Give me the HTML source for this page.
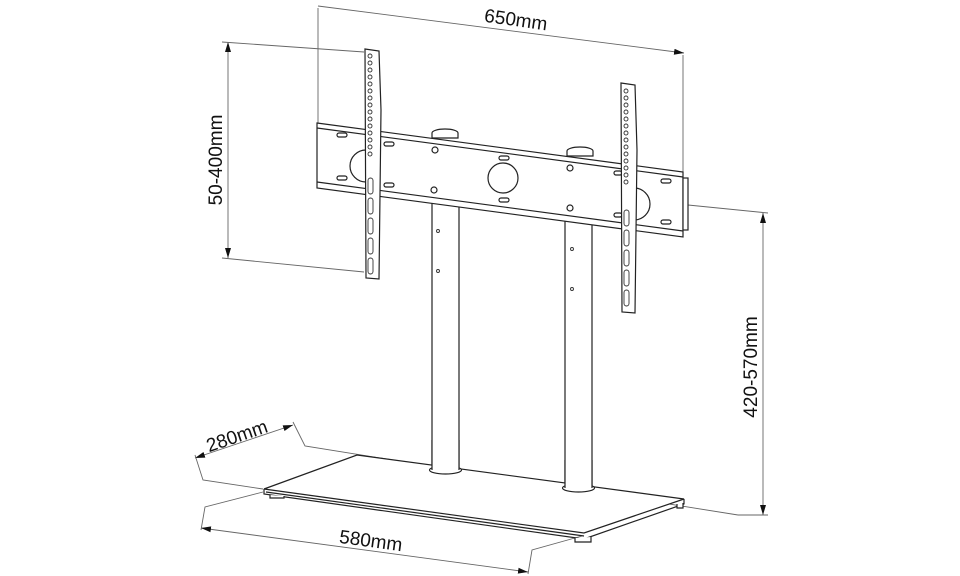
<!DOCTYPE html>
<html><head><meta charset="utf-8"><style>
html,body{margin:0;padding:0;background:#fff;width:960px;height:576px;overflow:hidden}
svg{display:block}
text{font-family:"Liberation Sans",sans-serif;fill:#111;font-size:19px}
</style></head><body>
<svg width="960" height="576" viewBox="0 0 960 576" xmlns="http://www.w3.org/2000/svg">
<defs>
<marker id="a" viewBox="0 0 10 6" refX="10" refY="3" markerWidth="10" markerHeight="6" orient="auto-start-reverse" markerUnits="userSpaceOnUse"><path d="M0,0 L10,3 L0,6z" fill="#111"/></marker>
</defs>
<g stroke="#666" stroke-width="0.9" fill="none">
<line x1="318" y1="8" x2="318" y2="125"/>
<line x1="683" y1="55" x2="683" y2="172"/>
<line x1="318" y1="6" x2="684" y2="53" marker-end="url(#a)"/>
<line x1="228" y1="42" x2="228" y2="258" marker-start="url(#a)" marker-end="url(#a)"/>
<line x1="222" y1="42" x2="364" y2="52"/>
<line x1="222" y1="258" x2="364" y2="272"/>
<line x1="763" y1="213" x2="763" y2="515" marker-start="url(#a)" marker-end="url(#a)"/>
<line x1="688" y1="205" x2="768" y2="213"/>
<line x1="738" y1="515" x2="768" y2="515"/>
<line x1="195" y1="458" x2="293" y2="425" marker-start="url(#a)" marker-end="url(#a)"/>
<polyline points="293,422 305,446 738,515"/>
<polyline points="195,455 203,480 263,489"/>
<line x1="201" y1="528" x2="528" y2="572" marker-start="url(#a)" marker-end="url(#a)"/>
<polyline points="201,530 205,507 263,492"/>
<polyline points="528,574 532,550 582,536"/>
</g>
<text transform="translate(515,26) rotate(8)" text-anchor="middle">650mm</text>
<text transform="translate(222,160) rotate(-90)" text-anchor="middle">50-400mm</text>
<text transform="translate(757,367) rotate(-90)" text-anchor="middle">420-570mm</text>
<text transform="translate(239,442) rotate(-19)" text-anchor="middle">280mm</text>
<text transform="translate(370,547) rotate(7.7)" text-anchor="middle">580mm</text>

<g stroke="#222" stroke-width="1.2" fill="#fff">
<rect x="432" y="195" width="27" height="275"/>
<rect x="565" y="212" width="27" height="276"/>
<polygon points="264,489 357,455 684,499 584,533"/>
<polyline points="264,489 264,494 584,539 684,504 684,499" fill="none"/>
<line x1="266" y1="492" x2="584" y2="536"/>
<path d="M270,495 v3 h14 v-2" />
<path d="M575,538 v4 h16 v-5"/>
<path d="M677,504 v4 h6 v-5"/>
<ellipse cx="445.5" cy="470" rx="16" ry="4"/>
<rect x="432" y="440" width="27" height="30" stroke="none"/>
<line x1="432" y1="440" x2="432" y2="470"/><line x1="459" y1="440" x2="459" y2="470"/>
<ellipse cx="578.5" cy="488" rx="16" ry="4"/>
<rect x="565" y="460" width="27" height="28" stroke="none"/>
<line x1="565" y1="460" x2="565" y2="488"/><line x1="592" y1="460" x2="592" y2="488"/>
<polygon points="317,123 683,172 683,237 317,188"/>
<line x1="317" y1="128" x2="683" y2="177"/>
<line x1="317" y1="182" x2="683" y2="231"/>
<rect x="683" y="178" width="5" height="52"/>
<path d="M432,133 a13,4 0 0 1 26,0 v5 h-26z"/>
<path d="M567,151 a13,4 0 0 1 26,0 v5 h-26z"/>
<circle cx="503" cy="178" r="15"/>
<path d="M366,150 a16,16 0 0 0 0,32"/>
<path d="M634,188 a16,16 0 0 1 0,32"/>
<circle cx="435" cy="150" r="3"/><circle cx="434" cy="190" r="3"/>
<circle cx="570" cy="168" r="3"/><circle cx="570" cy="208" r="3"/>
<rect x="337" y="133" width="10" height="4" rx="2"/><rect x="337" y="176" width="10" height="4" rx="2"/>
<rect x="384" y="142" width="10" height="4" rx="2"/><rect x="384" y="183" width="10" height="4" rx="2"/>
<rect x="499" y="156" width="10" height="4" rx="2"/><rect x="499" y="198" width="10" height="4" rx="2"/>
<rect x="614" y="171" width="8" height="4" rx="2"/><rect x="614" y="213" width="8" height="4" rx="2"/>
<rect x="661" y="179" width="10" height="4" rx="2"/><rect x="661" y="220" width="10" height="4" rx="2"/>
<polygon points="365,49 379,51 381,110 379,279 366,278"/>
<polygon points="621,83 635,85 637,150 635,313 622,312"/>
</g>
<g stroke="#333" stroke-width="0.9" fill="none">
<circle cx="370" cy="56" r="2"/><circle cx="370" cy="63" r="2"/><circle cx="370" cy="70" r="2"/><circle cx="370" cy="77" r="2"/><circle cx="370" cy="84" r="2"/><circle cx="370" cy="91" r="2"/><circle cx="370" cy="98" r="2"/><circle cx="370" cy="105" r="2"/><circle cx="370" cy="112" r="2"/><circle cx="370" cy="119" r="2"/><circle cx="370" cy="126" r="2"/><circle cx="370" cy="133" r="2"/><circle cx="370" cy="140" r="2"/><circle cx="370" cy="147" r="2"/><circle cx="370" cy="154" r="2"/>
<rect x="368" y="178" width="5" height="16" rx="2.5"/><rect x="368" y="198" width="5" height="16" rx="2.5"/><rect x="368" y="218" width="5" height="16" rx="2.5"/><rect x="368" y="238" width="5" height="16" rx="2.5"/><rect x="368" y="258" width="5" height="16" rx="2.5"/>
<circle cx="626" cy="91" r="2"/><circle cx="626" cy="98" r="2"/><circle cx="626" cy="105" r="2"/><circle cx="626" cy="112" r="2"/><circle cx="626" cy="119" r="2"/><circle cx="626" cy="126" r="2"/><circle cx="626" cy="133" r="2"/><circle cx="626" cy="140" r="2"/><circle cx="626" cy="147" r="2"/><circle cx="626" cy="154" r="2"/><circle cx="626" cy="161" r="2"/><circle cx="626" cy="168" r="2"/><circle cx="626" cy="175" r="2"/><circle cx="626" cy="182" r="2"/>
<rect x="624" y="210" width="5" height="16" rx="2.5"/><rect x="624" y="230" width="5" height="16" rx="2.5"/><rect x="624" y="250" width="5" height="16" rx="2.5"/><rect x="624" y="270" width="5" height="16" rx="2.5"/><rect x="624" y="290" width="5" height="16" rx="2.5"/>
<circle cx="438" cy="231" r="1.5"/><circle cx="438" cy="271" r="1.5"/>
<circle cx="572" cy="249" r="1.5"/><circle cx="572" cy="289" r="1.5"/>
</g>
</svg>
</body></html>
